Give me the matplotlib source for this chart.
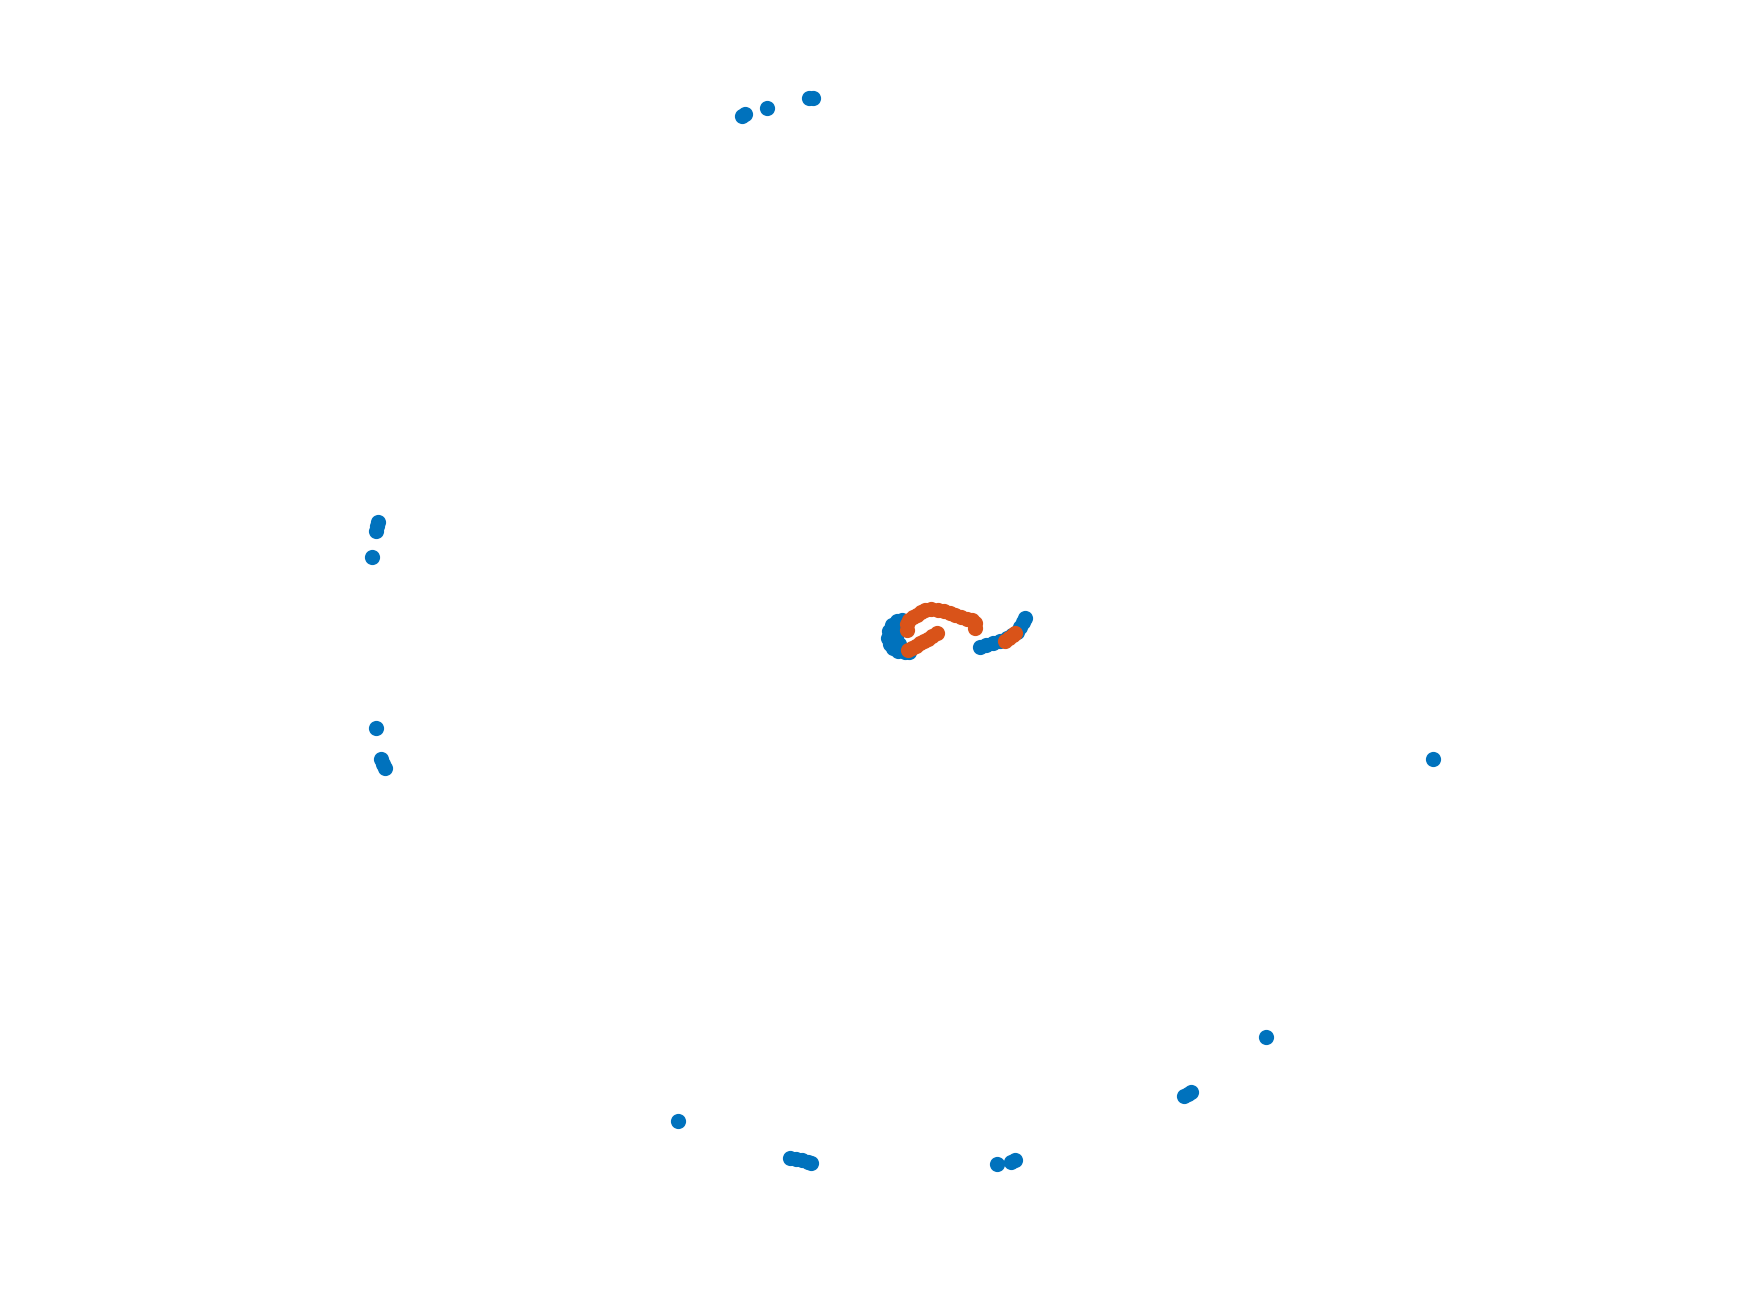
import matplotlib
matplotlib.use("Agg")
import matplotlib.pyplot as plt

# Blue series (image-like coordinates: x right, y down)
blue_x = [742, 745, 767, 809, 813,
          378, 377, 376, 372, 376, 381, 383, 385,
          678, 790, 796, 802, 808, 811, 997, 1011, 1015,
          1184, 1188, 1191, 1266, 1433,
          902, 897, 892, 889, 888, 890, 893, 898, 905, 909,
          894, 896, 899, 900,
          980, 986, 993, 1000, 1007, 1012, 1017, 1020, 1023, 1025]
blue_y = [116, 114, 108, 98, 98,
          522, 526, 531, 557, 728, 759, 764, 768,
          1121, 1158, 1159, 1160, 1162, 1163, 1164, 1162, 1160,
          1096, 1094, 1092, 1037, 759,
          620, 621, 625, 631, 638, 644, 648, 651, 652, 652,
          630, 637, 644, 625,
          647, 645, 643, 641, 638, 635, 632, 627, 622, 618]

# Orange series
orange_x = [907, 907, 909, 913, 917, 921, 925, 931, 938, 944, 950, 955, 961, 967, 972, 975, 975,
            908, 912, 916, 920, 924, 928, 932, 937,
            1005, 1009, 1013, 1015]
orange_y = [630, 624, 620, 617, 615, 612, 610, 609, 610, 611, 613, 615, 617, 619, 620, 623, 628,
            650, 648, 646, 643, 641, 639, 636, 633,
            641, 638, 635, 633]

BLUE = "#0072BD"
ORANGE = "#D95319"

fig = plt.figure(figsize=(8.72, 6.54), dpi=200)
ax = fig.add_axes([0, 0, 1, 1])
ax.scatter(blue_x, blue_y, s=30, color=BLUE, linewidths=0)
ax.scatter(orange_x, orange_y, s=30, color=ORANGE, linewidths=0)
ax.set_xlim(0, 1744)
ax.set_ylim(1308, 0)
ax.axis("off")
fig.savefig("out.png", dpi=200, facecolor="white")
